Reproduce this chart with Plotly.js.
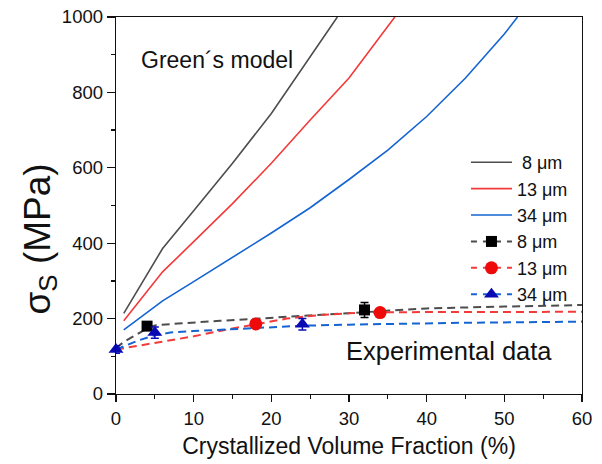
<!DOCTYPE html>
<html>
<head>
<meta charset="utf-8">
<script src="https://cdn.plot.ly/plotly-3.0.1.min.js"></script>
<style>
  html, body { margin: 0; padding: 0; background: #fff; }
  #chart { width: 602px; height: 464px; }
</style>
</head>
<body>
<div id="chart"></div>
<script>
// Green's model predictions (solid lines), by grain size
const modelX8 = [1, 6, 10, 15, 20, 25, 28.5];
const modelY8 = [214, 386, 486, 612, 744, 894, 1000];
const modelX13 = [1, 6, 10, 15, 20, 25, 30, 35.9];
const modelY13 = [194, 324, 404, 505, 612, 727, 838, 1000];
const modelX34 = [1, 6, 10, 15, 20, 25, 30, 35, 40, 45, 50, 51.7];
const modelY34 = [170, 247, 298, 362, 427, 494, 569, 647, 736, 838, 955, 1000];

// Fitted trends through the experimental data (dashed lines)
const fitX8 = [0, 1, 2, 3, 4, 5, 8, 13.4, 18, 23.7, 28, 32, 36, 40, 50, 60];
const fitY8 = [122, 138, 150, 162, 174, 182, 187, 194, 200, 207, 213, 218, 223, 227, 232, 236];
const fitX13 = [0, 2, 5, 10, 14, 18, 22, 26, 30, 34, 45, 60];
const fitY13 = [118, 125, 135, 153, 170, 186, 200, 209, 214, 217, 218, 218];
const fitX34 = [0, 1, 2, 3, 5, 7, 10, 14, 20, 24, 30, 37, 45, 60];
const fitY34 = [118, 127, 134, 143, 156, 163, 167, 171, 177, 181, 184, 187, 189, 192];

// Measured yield strength with error bars
const dataX8 = [4, 32];
const dataY8 = [180, 223];
const dataE8 = [8, 20];
const dataX13 = [18, 34];
const dataY13 = [186, 216];
const dataE13 = [6, 6];
const dataX34 = [0, 5, 24];
const dataY34 = [118, 163, 185];
const dataE34 = [10, 15, 15];

// Legend labels: model curves, then measured series
const modelNames = [' 8 μm', '13 μm', '34 μm'];
const dataNames = ['8 μm', '13 μm', '34 μm'];

const gray = '#4d4d4d';
const red = '#f23a3a';
const blue = '#1464d2';
const redMarker = '#ee0a0a';
const blueMarker = '#0a0ab4';
const dashPattern = '8px,5px';
const font = 'Arial, "Liberation Sans", sans-serif';

function modelTrace(x, y, color, name) {
  return { x: x, y: y, name: name, type: 'scatter', mode: 'lines',
           line: { color: color, width: 1.6 }, showlegend: true };
}
function fitTrace(x, y, color) {
  return { x: x, y: y, type: 'scatter', mode: 'lines',
           line: { color: color, width: 2, dash: dashPattern },
           showlegend: false, hoverinfo: 'skip' };
}
function dataTrace(x, y, e, symbol, color, size) {
  return { x: x, y: y, type: 'scatter', mode: 'markers', showlegend: false,
           cliponaxis: false,
           marker: { symbol: symbol, color: color, size: size },
           error_y: { type: 'data', array: e, visible: true, color: color,
                      thickness: 1.5, width: 4 } };
}
function keyTrace(name, lineColor, symbol, markerColor, size) {
  return { x: [null], y: [null], name: name, type: 'scatter', mode: 'lines+markers',
           line: { color: lineColor, width: 2, dash: '6px,6px' },
           marker: { symbol: symbol, color: markerColor, size: size } };
}

const traces = [
  modelTrace(modelX8, modelY8, gray, modelNames[0]),
  modelTrace(modelX13, modelY13, red, modelNames[1]),
  modelTrace(modelX34, modelY34, blue, modelNames[2]),
  fitTrace(fitX8, fitY8, gray),
  fitTrace(fitX13, fitY13, red),
  fitTrace(fitX34, fitY34, blue),
  dataTrace(dataX8, dataY8, dataE8, 'square', '#000000', 11),
  dataTrace(dataX13, dataY13, dataE13, 'circle', redMarker, 13),
  dataTrace(dataX34, dataY34, dataE34, 'triangle-up', blueMarker, 13),
  keyTrace(dataNames[0], gray, 'square', '#000000', 11),
  keyTrace(dataNames[1], red, 'circle', redMarker, 13),
  keyTrace(dataNames[2], blue, 'triangle-up', blueMarker, 13)
];

const layout = {
  width: 602, height: 464,
  margin: { l: 116, r: 20, t: 17, b: 70 },
  paper_bgcolor: '#fff', plot_bgcolor: '#fff',
  font: { family: font, color: '#111', size: 16 },
  showlegend: true,
  legend: {
    x: 0.751, y: 0.663, xanchor: 'left', yanchor: 'top',
    bgcolor: 'rgba(0,0,0,0)', borderwidth: 0,
    font: { family: font, size: 18, color: '#111' },
    tracegroupgap: 0, itemwidth: 41
  },
  xaxis: {
    range: [0, 60], dtick: 10, tick0: 0,
    showgrid: false, zeroline: false,
    showline: true, mirror: true, linecolor: '#111', linewidth: 1.3,
    ticks: 'outside', ticklen: 7, tickwidth: 1.3, tickcolor: '#111',
    minor: { dtick: 5, ticks: 'outside', ticklen: 4, tickwidth: 1.3, tickcolor: '#111' },
    tickfont: { family: font, size: 18.5, color: '#111' },
    title: { text: 'Crystallized Volume Fraction (%)', font: { family: font, size: 23, color: '#111' }, standoff: 10 }
  },
  yaxis: {
    range: [0, 1000], dtick: 200, tick0: 0,
    showgrid: false, zeroline: false,
    showline: true, mirror: true, linecolor: '#111', linewidth: 1.3,
    ticks: 'outside', ticklen: 8, tickwidth: 1.3, tickcolor: '#111',
    minor: { dtick: 100, ticks: 'outside', ticklen: 4, tickwidth: 1.3, tickcolor: '#111' },
    tickfont: { family: font, size: 18.5, color: '#111' }
  },
  annotations: [
    // y-axis title, placed directly so it can sit a little below the axis centre
    { text: 'σ<sub>S</sub> (MPa)', xref: 'paper', yref: 'paper', x: -0.163, y: 0.41,
      xanchor: 'center', yanchor: 'middle', textangle: -90, showarrow: false,
      font: { family: font, size: 37, color: '#111' } },
    { text: 'Green´s model', xref: 'paper', yref: 'paper', x: 0.05, y: 0.885,
      xanchor: 'left', yanchor: 'middle', showarrow: false,
      font: { family: font, size: 23, color: '#111' } },
    { text: 'Experimental data', xref: 'paper', yref: 'paper', x: 0.49, y: 0.115,
      xanchor: 'left', yanchor: 'middle', showarrow: false,
      font: { family: font, size: 25.5, color: '#111' } }
  ]
};

Plotly.newPlot('chart', traces, layout, { displayModeBar: false, staticPlot: true });
</script>
</body>
</html>
